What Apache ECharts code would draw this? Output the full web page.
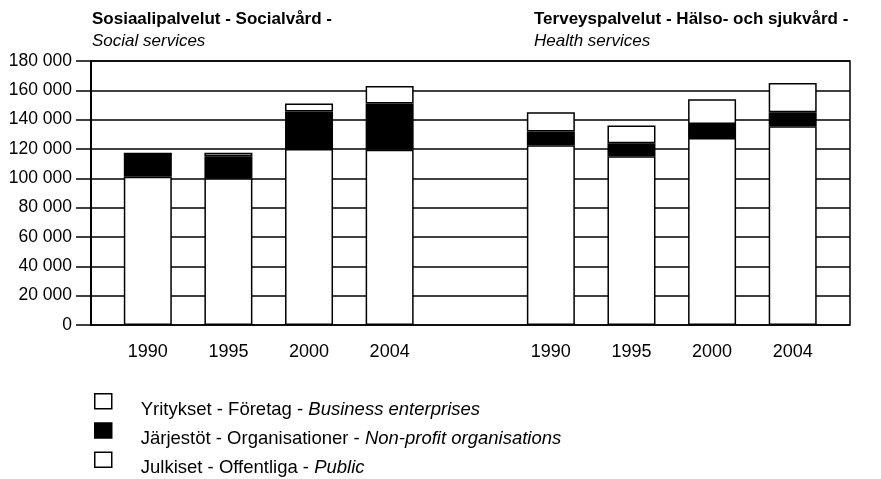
<!DOCTYPE html>
<html>
<head>
<meta charset="utf-8">
<script src="https://cdn.jsdelivr.net/npm/echarts@6/dist/echarts.min.js"></script>
<style>
    html, body { margin: 0; padding: 0; background: #fff; }
    #main { width: 881px; height: 479px; }
</style>
</head>
<body>
<div id="main"></div>
<script>
// one empty slot separates the two panels
var categories = ['1990', '1995', '2000', '2004', '', '1990', '1995', '2000', '2004'];

var publicVals    = [101000, 100000, 120000, 119500, null, 122500, 115000, 127500, 135500];
var nonprofitVals = [16000, 15000, 25500, 31500, null, 9500, 9000, 9500, 9500];
var businessVals  = [0, 2500, 5500, 12000, null, 13000, 12000, 17000, 20000];

var yTicks = [0, 20000, 40000, 60000, 80000, 100000, 120000, 140000, 160000, 180000];

var names = {
    business: 'Yritykset - Företag - ',
    nonprofit: 'Järjestöt - Organisationer - ',
    pub: 'Julkiset - Offentliga - '
};
var namesEn = {
    business: 'Business enterprises',
    nonprofit: 'Non-profit organisations',
    pub: 'Public'
};

var font = "'Liberation Sans', Arial, Helvetica, sans-serif";

function fmtThousands(v) {
    return String(v).replace(/\B(?=(\d{3})+(?!\d))/g, ' ');
}

function makeSeries(key, values, fill) {
    return {
        name: key,
        type: 'bar',
        stack: 'total',
        xAxisIndex: 1,
        yAxisIndex: 1,
        barWidth: 48,
        data: values,
        itemStyle: { color: fill, borderColor: '#000', borderWidth: 1.5 },
        emphasis: { disabled: true }
    };
}

var myChart = echarts.init(document.getElementById('main'));

var titleText = { fontFamily: font, fontSize: 17, fontWeight: 'bold', color: '#000' };
var titleSub = { fontFamily: font, fontSize: 17, fontStyle: 'italic', color: '#000' };

var option = {
    backgroundColor: '#fff',
    animation: false,
    textStyle: { fontFamily: font, color: '#000' },
    title: [
        {
            text: 'Sosiaalipalvelut - Socialvård -',
            subtext: 'Social services',
            left: 87,
            top: 6,
            itemGap: 5,
            textStyle: titleText,
            subtextStyle: titleSub
        },
        {
            text: 'Terveyspalvelut - Hälso- och sjukvård -',
            subtext: 'Health services',
            left: 529,
            top: 6,
            itemGap: 5,
            textStyle: titleText,
            subtextStyle: titleSub
        }
    ],
    // grid 0: frame, gridlines, y labels. grid 1: the bars
    grid: [
        {
            left: 91, right: 31, top: 61, bottom: 154,
            show: true,
            borderColor: '#000',
            borderWidth: 1.5,
            backgroundColor: 'transparent'
        },
        { left: 107.5, right: 48, top: 61, bottom: 154 }
    ],
    legend: {
        orient: 'vertical',
        left: 94,
        top: 393,
        padding: 0,
        itemWidth: 17,
        itemHeight: 15,
        itemGap: 3,
        selectedMode: false,
        data: [
            { name: 'business', icon: 'rect', itemStyle: { color: '#fff', borderColor: '#000', borderWidth: 1.5 } },
            { name: 'nonprofit', icon: 'rect', itemStyle: { color: '#000', borderColor: '#000', borderWidth: 1.5 } },
            { name: 'pub', icon: 'rect', itemStyle: { color: '#fff', borderColor: '#000', borderWidth: 1.5 } }
        ],
        formatter: function (n) {
            return '{a|' + names[n] + '}{b|' + namesEn[n] + '}';
        },
        textStyle: {
            padding: [0, 0, 0, 24],
            rich: {
                a: { fontFamily: font, fontSize: 18.5, color: '#000', padding: [17, 0, 0, 0] },
                b: { fontFamily: font, fontSize: 18.5, fontStyle: 'italic', color: '#000', padding: [17, 0, 0, 0] }
            }
        }
    },
    xAxis: [
        {
            type: 'value',
            gridIndex: 0,
            min: 0,
            max: 1,
            show: false
        },
        {
            type: 'category',
            gridIndex: 1,
            data: categories,
            axisLine: { show: false },
            axisTick: { show: false },
            splitLine: { show: false },
            axisLabel: {
                interval: 0,
                margin: 18,
                fontFamily: font,
                fontSize: 18,
                color: '#000'
            }
        }
    ],
    yAxis: [
        {
            type: 'value',
            gridIndex: 0,
            min: 0,
            max: 180000,
            interval: 20000,
            axisLine: { show: true, lineStyle: { color: '#000', width: 2 } },
            axisTick: { show: true, length: 15, lineStyle: { color: '#000', width: 1.5 } },
            splitLine: { show: true, lineStyle: { color: '#000', width: 1.5 } },
            axisLabel: {
                margin: 19,
                fontFamily: font,
                fontSize: 17.5,
                color: '#000',
                customValues: yTicks,
                formatter: function (v) { return fmtThousands(v); }
            }
        },
        {
            type: 'value',
            gridIndex: 1,
            min: 0,
            max: 180000,
            show: false
        }
    ],
    series: [
        makeSeries('pub', publicVals, '#fff'),
        makeSeries('nonprofit', nonprofitVals, '#000'),
        makeSeries('business', businessVals, '#fff')
    ]
};

myChart.setOption(option);
</script>
</body>
</html>
